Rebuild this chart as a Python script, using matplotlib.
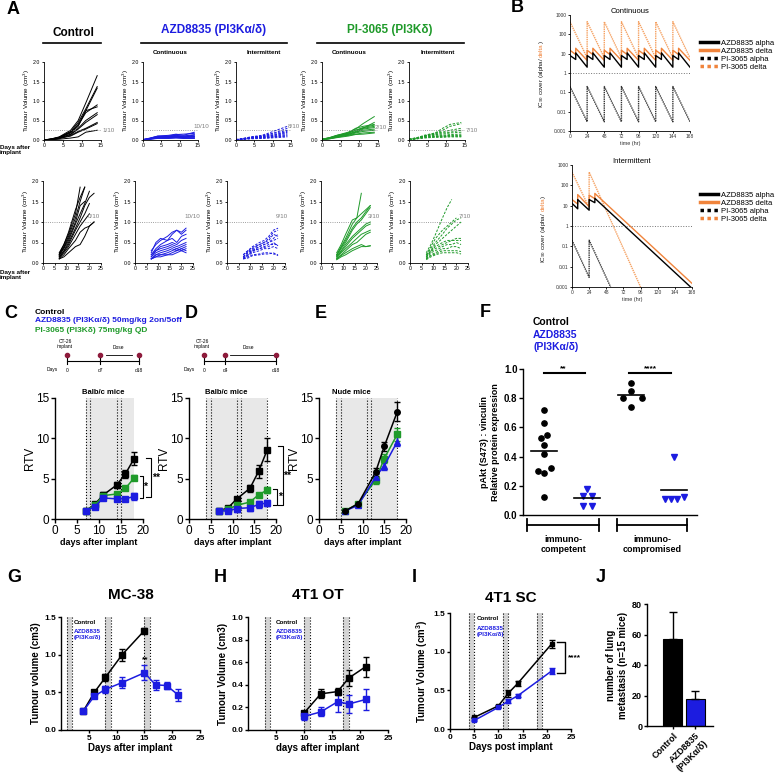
import matplotlib
matplotlib.use("Agg")
import matplotlib.pyplot as plt
from matplotlib.lines import Line2D
import numpy as np

plt.rcParams['font.family'] = ['Liberation Sans', 'DejaVu Sans']
plt.rcParams['mathtext.default'] = 'regular'
plt.rcParams['axes.linewidth'] = 0.8

W, H = 778, 775
BLUE = '#1c1ce0'
GREEN = '#1f9a2a'
ORANGE = '#f0843c'
BAND = '#e8e8e8'
DASH = (0, (2.5, 1.5))

# ---------------- panel A: individual tumour growth ----------------
a_days = [0, 2, 4, 7, 9, 11, 14]
ctl_top = [
    [0, 0.03, 0.08, 0.25, 0.5, 0.95, 1.65],
    [0, 0.03, 0.07, 0.22, 0.45, 0.8, 1.37],
    [0, 0.02, 0.07, 0.2, 0.4, 0.75, 1.33],
    [0, 0.02, 0.06, 0.2, 0.38, 0.7, 0.9],
    [0, 0.02, 0.06, 0.18, 0.35, 0.75, 0.85],
    [0, 0.02, 0.05, 0.15, 0.3, 0.5, 0.7],
    [0, 0.02, 0.05, 0.14, 0.28, 0.45, 0.65],
    [0, 0.01, 0.04, 0.12, 0.22, 0.3, 0.45],
    [0, 0.01, 0.04, 0.1, 0.2, 0.28, 0.42],
    [0, 0.01, 0.02, 0.05, 0.08, 0.2, 0.25],
]
azd_c_top = [
    [0.01, 0.05, 0.1, 0.12, 0.15, 0.12, 0.2],
    [0.01, 0.05, 0.1, 0.1, 0.14, 0.15, 0.17],
    [0.01, 0.04, 0.09, 0.1, 0.12, 0.1, 0.14],
    [0.01, 0.04, 0.08, 0.09, 0.11, 0.1, 0.12],
    [0.0, 0.04, 0.08, 0.08, 0.1, 0.08, 0.1],
    [0.0, 0.03, 0.07, 0.08, 0.09, 0.08, 0.09],
    [0.0, 0.03, 0.06, 0.07, 0.08, 0.07, 0.08],
    [0.0, 0.03, 0.06, 0.06, 0.07, 0.06, 0.06],
    [0.0, 0.02, 0.05, 0.05, 0.06, 0.05, 0.05],
    [0.0, 0.02, 0.04, 0.04, 0.05, 0.04, 0.04],
]
azd_i_top = [
    [0.01, 0.04, 0.08, 0.12, 0.18, 0.25, 0.35],
    [0.01, 0.04, 0.07, 0.1, 0.15, 0.2, 0.3],
    [0.01, 0.03, 0.07, 0.1, 0.14, 0.18, 0.25],
    [0.01, 0.03, 0.06, 0.09, 0.12, 0.15, 0.22],
    [0.0, 0.03, 0.06, 0.08, 0.1, 0.14, 0.2],
    [0.0, 0.03, 0.05, 0.07, 0.1, 0.12, 0.18],
    [0.0, 0.02, 0.05, 0.07, 0.08, 0.1, 0.15],
    [0.0, 0.02, 0.04, 0.06, 0.07, 0.09, 0.12],
    [0.0, 0.02, 0.04, 0.05, 0.06, 0.08, 0.1],
    [0.0, 0.02, 0.03, 0.04, 0.05, 0.06, 0.08],
]
pi_c_top = [
    [0.02, 0.06, 0.12, 0.2, 0.28, 0.42, 0.6],
    [0.02, 0.06, 0.12, 0.18, 0.25, 0.3, 0.45],
    [0.02, 0.05, 0.11, 0.18, 0.3, 0.35, 0.4],
    [0.02, 0.05, 0.1, 0.17, 0.25, 0.32, 0.38],
    [0.01, 0.05, 0.1, 0.15, 0.22, 0.3, 0.35],
    [0.01, 0.04, 0.09, 0.15, 0.2, 0.28, 0.32],
    [0.01, 0.04, 0.08, 0.14, 0.2, 0.25, 0.28],
    [0.01, 0.04, 0.08, 0.12, 0.18, 0.22, 0.25],
    [0.01, 0.03, 0.07, 0.12, 0.15, 0.18, 0.2],
    [0.01, 0.03, 0.06, 0.1, 0.14, 0.15, 0.18],
]
pi_i_top = [
    [0.02, 0.06, 0.1, 0.18, 0.3, 0.4, 0.45],
    [0.02, 0.05, 0.1, 0.16, 0.25, 0.35, 0.42],
    [0.02, 0.05, 0.12, 0.18, 0.2, 0.25, 0.3],
    [0.01, 0.05, 0.1, 0.15, 0.18, 0.2, 0.25],
    [0.01, 0.04, 0.1, 0.14, 0.15, 0.18, 0.2],
    [0.01, 0.04, 0.09, 0.12, 0.12, 0.14, 0.15],
    [0.01, 0.04, 0.08, 0.1, 0.1, 0.12, 0.12],
    [0.01, 0.03, 0.07, 0.09, 0.1, 0.1, 0.1],
    [0.01, 0.03, 0.06, 0.08, 0.08, 0.1, 0.1],
    [0.0, 0.03, 0.05, 0.07, 0.07, 0.08, 0.08],
]

b_days = [7, 9, 11, 14, 16, 18, 20, 22]
ctl_bot = [
    [0.25, 0.45, 0.75, 1.3, 1.6, 1.85],
    [0.22, 0.45, 0.7, 1.2, 1.85],
    [0.2, 0.4, 0.65, 1.1, 1.5, 1.85],
    [0.2, 0.38, 0.6, 1.0, 1.4, 1.5],
    [0.18, 0.35, 0.55, 0.95, 1.2, 1.45, 1.75],
    [0.15, 0.3, 0.5, 0.85, 1.1, 1.4, 1.6, 1.7],
    [0.15, 0.28, 0.45, 0.8, 1.0, 1.2, 1.45],
    [0.12, 0.25, 0.4, 0.7, 0.9, 1.05, 1.2],
    [0.1, 0.2, 0.35, 0.55, 0.75, 0.85, 0.9, 1.0],
    [0.1, 0.15, 0.25, 0.4, 0.45, 0.65, 0.9, 1.0],
]
azd_c_bot = [
    [0.3, 0.45, 0.55, 0.65, 0.75, 0.8, 0.75, 0.85],
    [0.25, 0.5, 0.6, 0.55, 0.7, 0.8, 0.7, 0.8],
    [0.2, 0.35, 0.45, 0.55, 0.6, 0.5, 0.65, 0.7],
    [0.2, 0.3, 0.4, 0.45, 0.5, 0.45, 0.55, 0.6],
    [0.15, 0.3, 0.35, 0.4, 0.45, 0.4, 0.45, 0.5],
    [0.15, 0.25, 0.3, 0.35, 0.4, 0.35, 0.4, 0.45],
    [0.1, 0.2, 0.25, 0.3, 0.35, 0.3, 0.35, 0.4],
    [0.1, 0.2, 0.2, 0.25, 0.3, 0.35, 0.3, 0.35],
    [0.1, 0.15, 0.2, 0.2, 0.25, 0.3, 0.35, 0.3],
    [0.1, 0.15, 0.15, 0.2, 0.2, 0.25, 0.3, 0.25],
]
azd_i_bot = [
    [0.2, 0.3, 0.4, 0.5, 0.55, 0.65, 0.8, 0.85],
    [0.2, 0.3, 0.38, 0.45, 0.5, 0.6, 0.75, 0.8],
    [0.15, 0.28, 0.35, 0.45, 0.5, 0.55, 0.7, 0.65],
    [0.15, 0.25, 0.33, 0.4, 0.45, 0.5, 0.6, 0.7],
    [0.15, 0.25, 0.3, 0.4, 0.45, 0.5, 0.55, 0.6],
    [0.12, 0.2, 0.3, 0.35, 0.4, 0.45, 0.45, 0.45],
    [0.12, 0.2, 0.28, 0.35, 0.38, 0.4, 0.5, 0.42],
    [0.1, 0.18, 0.25, 0.3, 0.35, 0.35, 0.4, 0.35],
    [0.1, 0.15, 0.2, 0.22, 0.25, 0.25, 0.22, 0.2],
    [0.1, 0.12, 0.18, 0.2, 0.22, 0.22, 0.25, 0.18],
]
pi_c_bot = [
    [0.25, 0.45, 0.7, 1.05, 1.1, 1.7],
    [0.2, 0.4, 0.6, 0.95, 1.1, 1.2, 1.3, 1.4],
    [0.2, 0.38, 0.55, 0.85, 1.0, 1.1, 1.25, 1.4],
    [0.18, 0.35, 0.5, 0.8, 0.95, 1.05, 1.2, 1.35],
    [0.15, 0.3, 0.45, 0.65, 0.75, 0.85, 0.95, 1.0],
    [0.15, 0.28, 0.4, 0.6, 0.7, 0.8, 0.9, 0.95],
    [0.12, 0.25, 0.35, 0.5, 0.6, 0.7, 0.75, 0.8],
    [0.1, 0.2, 0.3, 0.45, 0.5, 0.6, 0.7, 0.75],
    [0.1, 0.18, 0.25, 0.35, 0.4, 0.45, 0.4, 0.42],
    [0.08, 0.15, 0.2, 0.3, 0.35, 0.4, 0.4, 0.42],
]
pi_i_bot = [
    [0.25, 0.45, 0.7, 1.1, 1.35, 1.55],
    [0.2, 0.4, 0.6, 0.8, 0.9, 1.0, 1.1],
    [0.2, 0.35, 0.5, 0.7, 0.85, 0.95, 1.05, 1.1],
    [0.18, 0.3, 0.45, 0.6, 0.7, 0.8, 0.9, 1.0],
    [0.15, 0.3, 0.4, 0.5, 0.55, 0.55, 0.6, 0.6],
    [0.15, 0.28, 0.35, 0.45, 0.5, 0.55, 0.55, 0.55],
    [0.12, 0.25, 0.3, 0.4, 0.45, 0.45, 0.5, 0.45],
    [0.1, 0.2, 0.25, 0.35, 0.35, 0.4, 0.4, 0.35],
    [0.1, 0.18, 0.22, 0.3, 0.3, 0.3, 0.3, 0.28],
    [0.08, 0.15, 0.2, 0.25, 0.25, 0.25, 0.25, 0.22],
]
fracs_top = ['1/10', '10/10', '8/10', '2/10', '7/10']
fracs_bot = ['0/10', '10/10', '9/10', '3/10', '7/10']

# ---------------- panel B: IC90 cover (peak / pre-dose values) ----------------
cont_bid = [0, 8, 24, 32, 48, 56, 72, 80, 96, 104, 120, 128, 144, 152]
cont_qd = [0, 24, 48, 72, 96, 120, 144]
c_azd_a_pk = [8, 11, 8, 11, 8, 11, 8, 11, 8, 11, 8, 11, 8, 11]
c_azd_a_tr = [5, 2, 5, 2, 5, 2, 5, 2, 5, 2, 5, 2, 5, 2]
c_azd_d_pk = [15, 19, 15, 19, 15, 19, 15, 19, 15, 19, 15, 19, 15, 19]
c_azd_d_tr = [9, 4.5, 9, 4.5, 9, 4.5, 9, 4.5, 9, 4.5, 9, 4.5, 9, 4.5]
c_pi_a_pk = [0.2, 0.2, 0.2, 0.2, 0.2, 0.2, 0.2]
c_pi_a_tr = [0.003, 0.003, 0.003, 0.003, 0.003, 0.003, 0.003]
c_pi_d_pk = [450, 450, 450, 450, 450, 450, 450]
c_pi_d_tr = [6, 6, 6, 6, 6, 6, 6]

int_bid = [0, 8, 24, 32]
int_qd = [0, 24]
i_azd_a_pk = [13, 20, 20, 23]
i_azd_a_tr = [7, 6, 14, 0.001]
i_azd_d_pk = [20, 35, 33, 40]
i_azd_d_tr = [12, 9, 22, 0.0015]
i_pi_a_pk = [0.2, 0.2]
i_pi_a_tr = [0.003, 0.001]
i_pi_d_pk = [450, 450]
i_pi_d_tr = [8, 0.001]

# ---------------- panels C-E: relative tumour volume ----------------
c_days = [7, 9, 11, 14, 16, 18]
c_ctl = [1.0, 1.8, 3.0, 4.2, 5.6, 7.5]
c_ctl_err = [0.1, 0.2, 0.3, 0.4, 0.5, 0.8]
c_azd = [1.0, 1.5, 2.6, 2.5, 2.5, 2.8]
c_azd_err = [0.1, 0.2, 0.2, 0.2, 0.2, 0.4]
c_pi = [1.0, 1.7, 2.9, 3.1, 3.8, 5.1]
c_pi_err = [0.1, 0.1, 0.2, 0.2, 0.2, 0.3]

d_days = [7, 9, 11, 14, 16, 18]
d_ctl = [1.0, 1.4, 2.5, 3.8, 5.9, 8.6]
d_ctl_err = [0.1, 0.1, 0.2, 0.4, 0.8, 1.4]
d_azd = [1.0, 1.0, 1.3, 1.4, 1.8, 2.0]
d_azd_err = [0.1, 0.1, 0.4, 0.4, 0.4, 0.4]
d_pi = [1.0, 1.2, 1.7, 2.1, 3.0, 3.6]
d_pi_err = [0.1, 0.1, 0.2, 0.2, 0.2, 0.4]

e_days = [6, 9, 13, 15, 18]
e_ctl = [1.0, 1.9, 5.8, 9.0, 13.3]
e_ctl_err = [0.1, 0.2, 0.5, 0.6, 1.2]
e_azd = [1.0, 1.7, 5.2, 6.6, 9.6]
e_azd_err = [0.1, 0.2, 0.4, 0.5, 0.6]
e_pi = [1.0, 1.9, 4.8, 7.5, 10.5]
e_pi_err = [0.1, 0.2, 0.4, 0.6, 0.8]

# ---------------- panel F: pAkt ----------------
f_ctl_comp = [0.72, 0.63, 0.55, 0.53, 0.48, 0.42, 0.32, 0.30, 0.29, 0.12]
f_azd_comp = [0.18, 0.13, 0.13, 0.065, 0.065]
f_ctl_immdef = [0.905, 0.85, 0.80, 0.80, 0.74]
f_azd_immdef = [0.40, 0.11, 0.11, 0.11, 0.125]
f_groups = ['immuno-\ncompetent', 'immuno-\ncompromised']

# ---------------- panels G-I: tumour volume ----------------
g_ctl_days = [4, 6, 8, 11, 15]
g_ctl = [0.25, 0.5, 0.70, 1.0, 1.32]
g_ctl_err = [0.02, 0.02, 0.05, 0.08, 0.03]
g_azd_days = [4, 6, 8, 11, 15, 17, 19, 21]
g_azd = [0.25, 0.45, 0.54, 0.63, 0.76, 0.60, 0.59, 0.47]
g_azd_err = [0.02, 0.03, 0.05, 0.07, 0.1, 0.07, 0.05, 0.08]

h_days = [10, 13, 16, 18, 21]
h_ctl = [0.15, 0.32, 0.34, 0.46, 0.56]
h_ctl_err = [0.02, 0.04, 0.03, 0.07, 0.09]
h_azd = [0.12, 0.16, 0.25, 0.23, 0.27]
h_azd_err = [0.03, 0.04, 0.09, 0.08, 0.09]

i_days = [5, 10, 12, 14, 21]
i_ctl = [0.15, 0.30, 0.46, 0.59, 1.10]
i_ctl_err = [0.01, 0.01, 0.04, 0.03, 0.05]
i_azd = [0.11, 0.28, 0.36, 0.43, 0.75]
i_azd_err = [0.01, 0.01, 0.03, 0.02, 0.04]

# ---------------- panel J ----------------
j_groups = ['Control', 'AZD8835\n(PI3K\u03b1/\u03b4)']
j_vals = [57, 18]
j_err = [18, 5]

fig = plt.figure(figsize=(W / 100, H / 100), dpi=100)


def box(l, t, r, b):
    return fig.add_axes([l / W, 1 - b / H, (r - l) / W, (b - t) / H])


def ftxt(x, y, s, **kw):
    return fig.text(x / W, 1 - y / H, s, **kw)


def fline(xs, ys, **kw):
    fig.add_artist(Line2D([x / W for x in xs], [1 - y / H for y in ys], **kw))


def prism(ax, size, width=0.8, length=2.5):
    ax.spines['top'].set_visible(False)
    ax.spines['right'].set_visible(False)
    ax.spines['left'].set_linewidth(width)
    ax.spines['bottom'].set_linewidth(width)
    ax.tick_params(labelsize=size, width=width, length=length, pad=1)


for x, y, s in [(13, 9, 'A'), (517, 7, 'B'), (11, 314, 'C'), (191, 314, 'D'),
                (321, 314, 'E'), (485, 313, 'F'), (14, 578, 'G'), (220, 578, 'H'),
                (414, 578, 'I'), (601, 578, 'J')]:
    ftxt(x, y, s, fontsize=13, fontweight='bold', ha='center', va='center')

# ---- A ----
ftxt(73, 33, 'Control', fontsize=8.5, fontweight='bold', ha='center', va='center')
ftxt(214, 30, 'AZD8835 (PI3K\u03b1/\u03b4)', fontsize=8.5, fontweight='bold',
     color=BLUE, ha='center', va='center')
ftxt(390, 30, 'PI-3065 (PI3K\u03b4)', fontsize=8.5, fontweight='bold',
     color=GREEN, ha='center', va='center')
fline([43, 101], [43, 43], color='k', lw=1.2)
fline([141, 287], [43, 43], color='k', lw=1.2)
fline([317, 464], [43, 43], color='k', lw=1.2)
for x, s in [(170, 'Continuous'), (264, 'Intermittent'), (349, 'Continuous'), (438, 'Intermittent')]:
    ftxt(x, 53, s, fontsize=4.5, fontweight='bold', ha='center', va='center')
ftxt(0, 150, 'Days after\nimplant', fontsize=4.5, fontweight='bold', va='center')
ftxt(0, 275, 'Days after\nimplant', fontsize=4.5, fontweight='bold', va='center')

a_cols = ['k', BLUE, BLUE, GREEN, GREEN]
a_styles = ['-', '-', DASH, '-', DASH]
top_sets = [ctl_top, azd_c_top, azd_i_top, pi_c_top, pi_i_top]
bot_sets = [ctl_bot, azd_c_bot, azd_i_bot, pi_c_bot, pi_i_bot]
top_x = [(44, 101), (143, 198), (236, 291), (322, 378), (409, 465)]
bot_x = [(43, 101), (135, 193), (227, 285), (321, 377), (410, 468)]
top_lab = [(15.3, 0.25), (13.8, 0.34), (14.0, 0.35), (14.2, 0.31), (15.2, 0.25)]
bot_lab = [(19.5, 1.13), (21.5, 1.13), (21.0, 1.13), (21.0, 1.13), (21.0, 1.13)]

for k in range(5):
    ax = box(top_x[k][0], 62, top_x[k][1], 140)
    for v in top_sets[k]:
        ax.plot(a_days[:len(v)], v, color=a_cols[k], ls=a_styles[k], lw=0.7)
    ax.plot([0, 15], [0.25, 0.25], ls=':', color='0.5', lw=0.6)
    ax.text(top_lab[k][0], top_lab[k][1], fracs_top[k], fontsize=4.5, color='0.5',
            va='center', clip_on=False)
    ax.set_xlim(0, 15)
    ax.set_ylim(0, 2)
    ax.set_xticks([0, 5, 10, 15])
    ax.set_yticks([0, 0.5, 1, 1.5, 2], ['0.0', '0.5', '1.0', '1.5', '2.0'])
    ax.set_ylabel('Tumour Volume (cm$^3$)', fontsize=4.5, labelpad=1)
    prism(ax, 3.8, 0.6, 1.5)

    ax = box(bot_x[k][0], 181, bot_x[k][1], 263)
    for v in bot_sets[k]:
        ax.plot(b_days[:len(v)], v, color=a_cols[k], ls=a_styles[k], lw=0.7)
    ax.plot([0, 22], [1, 1], ls=':', color='0.5', lw=0.6)
    ax.text(bot_lab[k][0], bot_lab[k][1], fracs_bot[k], fontsize=4.5, color='0.5',
            va='center', clip_on=False)
    ax.set_xlim(0, 25)
    ax.set_ylim(0, 2)
    ax.set_xticks([0, 5, 10, 15, 20, 25])
    ax.set_yticks([0, 0.5, 1, 1.5, 2], ['0.0', '0.5', '1.0', '1.5', '2.0'])
    ax.set_ylabel('Tumour Volume (cm$^3$)', fontsize=4.5, labelpad=1)
    prism(ax, 3.8, 0.6, 1.5)


# ---- B ----
def saw(times, peaks, troughs, end):
    xs, ys = [], []
    for i, t in enumerate(times):
        nxt = times[i + 1] if i + 1 < len(times) else end
        xs += [t, nxt]
        ys += [peaks[i], troughs[i]]
    return xs, ys


def pk_panel(ax, title, lines, leg_y):
    for xs, ys, col, ls in lines:
        ax.plot(xs, ys, color=col, ls=ls, lw=1.0)
    ax.axhline(1, color='0.45', ls=':', lw=0.7)
    ax.set_yscale('log')
    ax.set_ylim(1e-3, 1e3)
    ax.set_xlim(0, 168)
    ax.set_yticks([1e-3, 1e-2, 1e-1, 1, 10, 100, 1000],
                  ['0.001', '0.01', '0.1', '1', '10', '100', '1000'])
    ax.minorticks_off()
    ax.set_xticks([0, 24, 48, 72, 96, 120, 144, 168])
    ax.set_xlabel('time (hr)', fontsize=4, labelpad=1, color='0.2')
    ax.set_title(title, fontsize=5.5, pad=1, x=0.5)
    prism(ax, 3.5, 0.6, 1.5)
    ax.tick_params(labelcolor='0.2')
    t1 = ax.text(-0.24, 0.2, 'IC$_{90}$ cover (alpha/', rotation=90, fontsize=4.5,
                 transform=ax.transAxes, ha='center', va='bottom', color='0.1')
    t2 = ax.annotate('delta', xy=(0.5, 1), xycoords=t1, rotation=90, fontsize=4.5,
                     ha='center', va='bottom', color=ORANGE)
    ax.annotate(')', xy=(0.5, 1), xycoords=t2, rotation=90, fontsize=4.5,
                ha='center', va='bottom', color='0.1')
    handles = [Line2D([], [], color='k', lw=2.5),
               Line2D([], [], color=ORANGE, lw=2.5),
               Line2D([], [], color='k', lw=2.5, ls=(0, (1, 1))),
               Line2D([], [], color=ORANGE, lw=2.5, ls=(0, (1, 1)))]
    fig.legend(handles, ['AZD8835 alpha', 'AZD8835 delta', 'PI-3065 alpha', 'PI-3065 delta'],
               loc='center left', bbox_to_anchor=(700 / W, 1 - leg_y / H), frameon=False,
               fontsize=5.5, handlelength=2.3, handletextpad=0.5, labelspacing=0.1,
               borderaxespad=0, borderpad=0)


DOT = (0, (1, 0.6))
axb = box(570, 15, 690, 131)
pk_panel(axb, 'Continuous', [
    (*saw(cont_qd, c_pi_d_pk, c_pi_d_tr, 168), '#f5a060', DOT),
    (*saw(cont_qd, c_pi_a_pk, c_pi_a_tr, 168), '#333333', DOT),
    (*saw(cont_bid, c_azd_d_pk, c_azd_d_tr, 168), ORANGE, '-'),
    (*saw(cont_bid, c_azd_a_pk, c_azd_a_tr, 168), 'k', '-'),
], 55)
axb2 = box(572, 165, 692, 287)
pk_panel(axb2, 'Intermittent', [
    (*saw(int_qd, i_pi_d_pk, i_pi_d_tr, 96), '#f5a060', DOT),
    (*saw(int_qd, i_pi_a_pk, i_pi_a_tr, 54), '#333333', DOT),
    (*saw(int_bid, i_azd_d_pk, i_azd_d_tr, 168), ORANGE, '-'),
    (*saw(int_bid, i_azd_a_pk, i_azd_a_tr, 166), 'k', '-'),
], 207)

# ---- C / D / E ----
ftxt(35, 312, 'Control', fontsize=6, fontweight='bold', va='center')
ftxt(35, 321, 'AZD8835 (PI3K\u03b1/\u03b4) 50mg/kg 2on/5off', fontsize=6, fontweight='bold',
     color=BLUE, va='center')
ftxt(35, 330, 'PI-3065 (PI3K\u03b4) 75mg/kg QD', fontsize=6, fontweight='bold',
     color=GREEN, va='center')

RED = '#8e1b3c'
for xs, labs, dose in [([67, 100, 139], ['0', 'd7', 'd18'], (106, 132, 118)),
                       ([204, 225, 276], ['0', 'd4', 'd18'], (230, 273, 248))]:
    fline([xs[0], xs[-1]], [361, 361], color='k', lw=0.8)
    for x, lab in zip(xs, labs):
        fline([x, x], [357, 364], color='k', lw=0.8)
        fig.add_artist(Line2D([x / W], [1 - 355 / H], marker='o', ms=3, color=RED, ls=''))
        ftxt(x, 370, lab, fontsize=3.5, ha='center', va='center')
    ftxt(xs[0] - 15, 370, 'Days', fontsize=3.5, ha='center', va='center')
    ftxt(xs[0] - 2, 344, 'CT-26\nimplant', fontsize=3.5, ha='center', va='center',
         linespacing=1.0)
    ftxt(dose[2], 348, 'Dose', fontsize=3.5, ha='center', va='center')
    fline([dose[0], dose[1]], [355, 355], color='k', lw=0.6)


def rtv_panel(ax, days, series, band, vlines, title, tx):
    ax.axvspan(band[0], band[1], color=BAND, lw=0, zorder=0)
    for v in vlines:
        ax.axvline(v, color='k', ls=':', lw=0.8, zorder=1)
    for vals, errs, col, mk in series:
        ax.errorbar(days, vals, yerr=errs, color=col, marker=mk, ms=4, lw=1.1,
                    capsize=2, elinewidth=1, capthick=1, zorder=3)
    ax.set_xlim(0, 20)
    ax.set_ylim(0, 15)
    ax.set_xticks([0, 5, 10, 15, 20])
    ax.set_yticks([0, 5, 10, 15])
    ax.set_ylabel('RTV', fontsize=8.5, labelpad=0)
    ax.set_xlabel('days after implant', fontsize=6.5, fontweight='bold', labelpad=1)
    ax.text(tx, 15.3, title, fontsize=5.5, fontweight='bold', ha='center', va='bottom')
    prism(ax, 8.5, 1.0, 3)


def bracket(ax, x0, x1, y0, y1, label, tx):
    ax.plot([x0, x1, x1, x0], [y0, y0, y1, y1], color='k', lw=0.8, clip_on=False)
    ax.text(tx, (y0 + y1) / 2, label, fontsize=7.5, fontweight='bold', va='center',
            ha='left', clip_on=False)


axc = box(55, 398, 143, 519)
rtv_panel(axc, c_days, [(c_ctl, c_ctl_err, 'k', 's'), (c_pi, c_pi_err, GREEN, 's'),
                        (c_azd, c_azd_err, BLUE, 's')], (7, 18), [7, 8, 14, 15],
          'Balb/c mice', 11)
bracket(axc, 20.6, 21.9, 7.6, 2.7, '**', 22.0)
bracket(axc, 19.3, 20.0, 5.3, 2.6, '*', 20.1)

axd = box(189, 398, 276, 519)
rtv_panel(axd, d_days, [(d_ctl, d_ctl_err, 'k', 's'), (d_pi, d_pi_err, GREEN, 's'),
                        (d_azd, d_azd_err, BLUE, 's')], (4, 18), [4, 5, 11, 12, 18],
          'Balb/c mice', 8.5)
bracket(axd, 20.4, 21.5, 9.1, 1.7, '**', 21.7)
bracket(axd, 19.4, 20.3, 3.7, 1.7, '*', 20.4)

axe = box(319, 398, 406, 519)
rtv_panel(axe, e_days, [(e_pi, e_pi_err, GREEN, 's'), (e_azd, e_azd_err, BLUE, '^'),
                        (e_ctl, e_ctl_err, 'k', 'o')], (4, 18), [4, 5, 11, 12, 18],
          'Nude mice', 7.4)

# ---- F ----
ftxt(533, 322, 'Control', fontsize=7.5, fontweight='bold', va='center')
ftxt(533, 335, 'AZD8835', fontsize=7.5, fontweight='bold', color=BLUE, va='center')
ftxt(533, 347, '(PI3K\u03b1/\u03b4)', fontsize=7.5, fontweight='bold', color=BLUE, va='center')

axf = box(523, 369, 697, 515)
f_jit = [[0, 0, 0.08, -0.07, 0, 0, 0.17, -0.15, 0, 0],
         [0, -0.11, 0.1, -0.09, 0.1],
         [0, 0, -0.17, 0.27, 0],
         [0, -0.21, -0.08, 0.08, 0.22]]
f_sets = [f_ctl_comp, f_azd_comp, f_ctl_immdef, f_azd_immdef]
f_marks = [('o', 'k'), ('v', BLUE), ('o', 'k'), ('v', BLUE)]
for i, vals in enumerate(f_sets):
    pos = i + 1
    axf.plot([pos + j for j in f_jit[i]], vals, ls='', marker=f_marks[i][0],
             color=f_marks[i][1], ms=3.8)
    m = np.mean(vals)
    axf.plot([pos - 0.3, pos + 0.3], [m, m], color='k', lw=1.2)
axf.plot([1, 1.95], [0.97, 0.97], color='k', lw=1.5)
axf.text(1.45, 0.98, '**', fontsize=6, fontweight='bold', ha='center', va='bottom')
axf.plot([2.97, 3.93], [0.97, 0.97], color='k', lw=1.5)
axf.text(3.45, 0.98, '****', fontsize=6, fontweight='bold', ha='center', va='bottom')
axf.set_xlim(0.515, 4.53)
axf.set_ylim(0, 1.0)
axf.set_xticks([])
axf.set_yticks([0, 0.2, 0.4, 0.6, 0.8, 1.0], ['0.0', '0.2', '0.4', '0.6', '0.8', '1.0'])
axf.set_ylabel('pAkt (S473) : vinculin\nRelative protein expression', fontsize=6.5,
               fontweight='bold', labelpad=3)
prism(axf, 7, 1.0, 3)
for lb in axf.get_yticklabels():
    lb.set_fontweight('bold')
for (x0, x1), lab in zip([(0.61, 2.27), (2.69, 4.3)], f_groups):
    yb = -0.07
    axf.plot([x0, x1], [yb, yb], color='k', lw=1.3, clip_on=False)
    axf.plot([x0, x0], [yb - 0.04, yb + 0.04], color='k', lw=1.3, clip_on=False)
    axf.plot([x1, x1], [yb - 0.04, yb + 0.04], color='k', lw=1.3, clip_on=False)
    axf.text((x0 + x1) / 2, yb - 0.07, lab, fontsize=6.5, fontweight='bold', ha='center',
             va='top', linespacing=1.1, clip_on=False)


# ---- G / H / I ----
def tv_panel(ax, series, bands, title, ylab, xlab, ymax, yticks, ylabels, ms, pad, lx):
    for b0, b1 in bands:
        ax.axvspan(b0, b1, color='#d4d4d4', lw=0, zorder=0)
        ax.axvline(b0, color='k', ls=':', lw=0.8, zorder=1)
        ax.axvline(b1, color='k', ls=':', lw=0.8, zorder=1)
    for days, vals, errs, col in series:
        ax.errorbar(days, vals, yerr=errs, color=col, marker='s', ms=ms, lw=1.1,
                    capsize=2, elinewidth=1, capthick=1, zorder=3)
    ax.set_xlim(0, 25)
    ax.set_ylim(0, ymax)
    ax.set_xticks([5, 10, 15, 20, 25])
    ax.set_yticks(yticks, ylabels)
    ax.set_ylabel(ylab, fontsize=7, fontweight='bold', labelpad=2)
    ax.set_xlabel(xlab, fontsize=7, fontweight='bold', labelpad=1)
    ax.set_title(title, fontsize=11, fontweight='bold', pad=pad)
    prism(ax, 6, 1.0, 2.5)
    for lb in ax.get_xticklabels() + ax.get_yticklabels():
        lb.set_fontweight('bold')
    ax.text(lx, 0.97, 'Control', transform=ax.transAxes, fontsize=4.5, fontweight='bold',
            va='top')
    ax.text(lx, 0.89, 'AZD8835\n(PI3K\u03b1/\u03b4)', transform=ax.transAxes, fontsize=4.5,
            fontweight='bold', color=BLUE, va='top', linespacing=1.2)


axg = box(61, 617, 200, 730)
tv_panel(axg, [(g_ctl_days, g_ctl, g_ctl_err, 'k'), (g_azd_days, g_azd, g_azd_err, BLUE)],
         [(1, 2), (8, 9), (15, 16)], 'MC-38', 'Tumour volume (cm3)', 'Days after implant',
         1.5, [0, 0.5, 1.0, 1.5], ['0.0', '0.5', '1.0', '1.5'], 4, 13, 0.09)
axg.text(15.2, 0.88, '**', fontsize=6, fontweight='bold', ha='center', va='bottom')

axh = box(248, 617, 388, 730)
tv_panel(axh, [(h_days, h_ctl, h_ctl_err, 'k'), (h_days, h_azd, h_azd_err, BLUE)],
         [(3, 4), (10, 11), (17, 18)], '4T1 OT', 'Tumour Volume (cm3)', 'days after implant',
         1.0, [0, 0.2, 0.4, 0.6, 0.8, 1.0], ['0.0', '0.2', '0.4', '0.6', '0.8', '1.0'], 4,
         13, 0.2)

axi = box(450, 613, 571, 729)
tv_panel(axi, [(i_days, i_ctl, i_ctl_err, 'k'), (i_days, i_azd, i_azd_err, BLUE)],
         [(4, 5), (11, 12), (18, 19)], '4T1 SC', 'Tumour Volume (cm$^3$)', 'Days post implant',
         1.5, [0, 0.5, 1.0, 1.5], ['0.0', '0.5', '1.0', '1.5'], 2.5, 8, 0.22)
axi.set_xticks([0, 5, 10, 15, 20, 25])
for lb in axi.get_xticklabels():
    lb.set_fontweight('bold')
axi.plot([22.2, 23.8, 23.8, 22.2], [1.12, 1.12, 0.73, 0.73], color='k', lw=1, clip_on=False)
axi.text(24.3, 0.92, '****', fontsize=6, fontweight='bold', va='center', clip_on=False)

# ---- J ----
axj = box(647, 604, 713, 726)
axj.bar([0, 1], j_vals, width=0.85, color=['k', BLUE], edgecolor='k', lw=0.8,
        yerr=[[0, 0], j_err], capsize=3, error_kw=dict(elinewidth=1, capthick=1))
axj.set_xlim(-1.15, 1.78)
axj.set_ylim(0, 80)
axj.set_yticks([0, 20, 40, 60, 80])
axj.set_xticks([0, 1], j_groups, rotation=45, ha='right', rotation_mode='anchor')
axj.set_ylabel('number of lung\nmetastasis (n=15 mice)', fontsize=7, fontweight='bold',
               labelpad=3)
prism(axj, 6.5, 1.0, 2.5)
for lb in axj.get_xticklabels() + axj.get_yticklabels():
    lb.set_fontweight('bold')

fig.savefig('out.png', dpi=100)
